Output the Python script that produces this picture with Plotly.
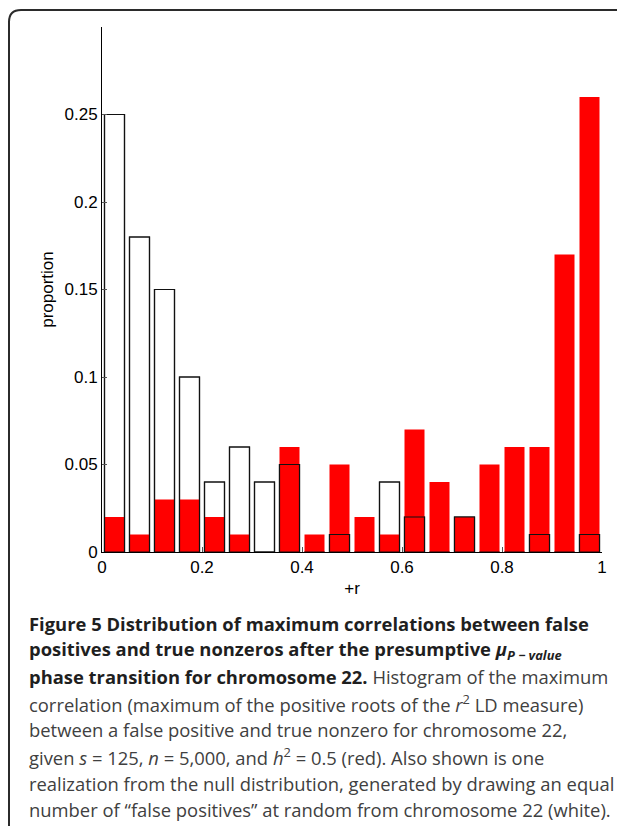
import plotly.graph_objects as go

# histogram bins (centres of 0.05 wide bins from 0 to 1)
bin_centers = [0.025, 0.075, 0.125, 0.175, 0.225, 0.275, 0.325, 0.375, 0.425, 0.475,
               0.525, 0.575, 0.625, 0.675, 0.725, 0.775, 0.825, 0.875, 0.925, 0.975]

# proportion per bin, red = observed, white = null realization
red_props = [0.02, 0.01, 0.03, 0.03, 0.02, 0.01, 0.0, 0.06, 0.01, 0.05,
             0.02, 0.01, 0.07, 0.04, 0.02, 0.05, 0.06, 0.06, 0.17, 0.26]
null_props = [0.25, 0.18, 0.15, 0.10, 0.04, 0.06, 0.04, 0.05, 0.0, 0.01,
              0.0, 0.04, 0.02, 0.0, 0.02, 0.0, 0.0, 0.01, 0.0, 0.01]

x_ticks = [0, 0.2, 0.4, 0.6, 0.8, 1]
x_ticklabels = ["0", "0.2", "0.4", "0.6", "0.8", "1"]
y_ticks = [0, 0.05, 0.1, 0.15, 0.2, 0.25]
y_ticklabels = ["0", "0.05", "0.1", "0.15", "0.2", "0.25"]

BOLD = '<span style="color:#1f1f1f"><b>{}</b></span>'
caption_lines = [
    BOLD.format("Figure 5 Distribution of maximum correlations between false"),
    BOLD.format("positives and true nonzeros after the presumptive <i>μ</i><sub><i>P − value</i></sub>"),
    BOLD.format("phase transition for chromosome 22.") + " Histogram of the maximum",
    "correlation (maximum of the positive roots of the <i>r</i><sup>2</sup> LD measure)",
    "between a false positive and true nonzero for chromosome 22,",
    "given <i>s</i> = 125, <i>n</i> = 5,000, and <i>h</i><sup>2</sup> = 0.5 (red). Also shown is one",
    "realization from the null distribution, generated by drawing an equal",
    "number of “false positives” at random from chromosome 22 (white).",
]

# page body has an 8px margin, so the figure is drawn 8px in from the window
OFF = 8
W, H = 625 - OFF, 826 - OFF
L, R, T = 102 - OFF, 625 - 602, 27 - OFF
B = H - (552 - OFF)
PW, PH = W - L - R, H - T - B


def px(x):
    # window pixel -> paper x
    return (x - OFF - L) / PW


def py(y):
    # window pixel -> paper y
    return (H - B - (y - OFF)) / PH


fig = go.Figure()

fig.add_trace(go.Bar(
    x=bin_centers, y=null_props, width=0.04,
    marker=dict(color="white", line=dict(color="#111", width=1.2)),
    showlegend=False,
))
fig.add_trace(go.Bar(
    x=bin_centers, y=red_props, width=0.04,
    marker=dict(color="#ff0000", line=dict(width=0)),
    showlegend=False,
))
# null outlines again on top, so they show over the red bars
fig.add_trace(go.Bar(
    x=bin_centers, y=null_props, width=0.04,
    marker=dict(color="rgba(0,0,0,0)", line=dict(color="#111", width=1.2)),
    showlegend=False,
))

axis_font = dict(family="Liberation Sans, Arial, sans-serif", size=17, color="black")

fig.update_xaxes(
    range=[0, 1], tickvals=x_ticks, ticktext=x_ticklabels,
    showline=True, linecolor="black", linewidth=1,
    ticks="inside", ticklen=5, tickcolor="#555",
    showgrid=False, zeroline=False, tickfont=axis_font,
    title=dict(text="+r", font=axis_font, standoff=5),
)
fig.update_yaxes(
    range=[0, 0.3], tickvals=y_ticks, ticktext=y_ticklabels,
    showline=True, linecolor="black", linewidth=1,
    ticks="inside", ticklen=5, tickcolor="#555",
    showgrid=False, zeroline=False, tickfont=axis_font,
    title=dict(text="proportion", font=axis_font, standoff=6),
)

# rounded frame around the figure (continues past right and bottom edge)
x0, y0, rad = 9, 10, 12
frame_path = (
    f"M {px(x0)} {py(850)} L {px(x0)} {py(y0 + rad)} "
    f"Q {px(x0)} {py(y0)} {px(x0 + rad)} {py(y0)} L {px(650)} {py(y0)}"
)
fig.add_shape(type="path", path=frame_path, xref="paper", yref="paper",
              line=dict(color="#2b2b2b", width=2))

for i, line in enumerate(caption_lines):
    fig.add_annotation(
        x=px(27), y=py(623 + i * 26.7), xref="paper", yref="paper",
        xanchor="left", yanchor="middle", showarrow=False, align="left",
        text=line,
        font=dict(family="Open Sans, Noto Sans, sans-serif", size=18.4, color="#404040"),
    )

fig.update_layout(
    width=W, height=H,
    margin=dict(l=L, r=R, t=T, b=B),
    barmode="overlay",
    plot_bgcolor="white", paper_bgcolor="white",
)

fig.write_html("out.html")
